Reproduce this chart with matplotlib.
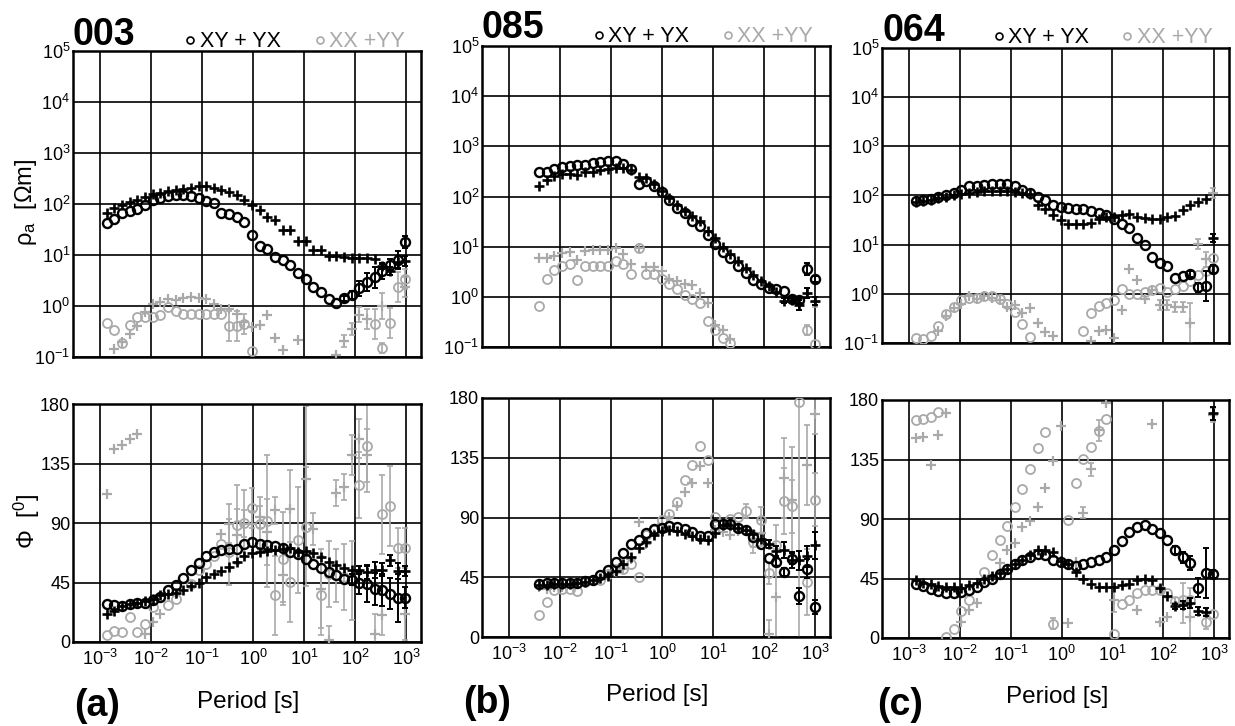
import numpy as np
import matplotlib.pyplot as plt
from matplotlib.lines import Line2D

plt.rcParams["font.family"] = ["Liberation Sans", "DejaVu Sans"]
plt.rcParams["mathtext.default"] = "regular"
plt.rcParams["axes.unicode_minus"] = False

nan = np.nan
GREY = "#a9a9a9"

# ---------------- site 003 ----------------
logT_003 = [-2.87, -2.72, -2.57, -2.42, -2.27, -2.12, -1.97, -1.82, -1.67, -1.52,
            -1.37, -1.22, -1.07, -0.92, -0.77, -0.62, -0.47, -0.32, -0.17, -0.02,
            0.13, 0.28, 0.43, 0.58, 0.73, 0.88, 1.03, 1.18, 1.33, 1.48,
            1.63, 1.78, 1.93, 2.08, 2.23, 2.38, 2.53, 2.68, 2.83, 2.98]
# log10 apparent resistivity, errors in decades
lrho_xy_003 = [1.62, 1.71, 1.83, 1.86, 1.91, 1.98, 2.07, 2.12, 2.15, 2.18,
               2.18, 2.16, 2.12, 2.05, 2.01, 1.83, 1.81, 1.74, 1.64, 1.40,
               1.17, 1.11, 0.96, 0.91, 0.81, 0.64, 0.52, 0.37, 0.28, 0.13,
               0.06, 0.15, 0.21, 0.35, 0.47, 0.56, 0.68, 0.81, 0.90, 1.25]
elrho_xy_003 = [0.0] * 31 + [0.05, 0.08, 0.15, 0.17, 0.2, 0.15, 0.12, 0.18, 0.12]
lrho_yx_003 = [1.83, 1.93, 1.99, 2.04, 2.07, 2.14, 2.19, 2.21, 2.25, 2.27,
               2.29, 2.32, 2.35, 2.35, 2.31, 2.27, 2.23, 2.17, 2.08, 1.98,
               1.89, 1.74, 1.68, 1.49, 1.49, 1.27, 1.27, 1.10, 1.10, 0.98,
               0.99, 0.97, 0.94, 0.94, 0.94, 0.92, 0.79, 0.69, 0.86, 0.89]
elrho_yx_003 = [0.0] * 36 + [0.06, 0.08, 0.12, 0.1]
lrho_xx_003 = [-0.33, -0.47, -0.73, -0.37, -0.22, -0.22, -0.22, -0.18, -0.01, -0.09,
               -0.16, -0.16, -0.16, -0.16, -0.16, -0.16, -0.39, -0.39, -0.35, -0.88,
               nan, nan, nan, nan, nan, nan, nan, nan, nan, nan,
               nan, nan, nan, nan, nan, -0.35, -0.83, -0.33, 0.37, 0.53]
elrho_xx_003 = [0.0] * 16 + [0.3, 0.3, 0.2, 0.0] + [0.0] * 15 + [0.3, 0.1, 0.3, 0.3, 0.2]
lrho_yy_003 = [nan, -0.85, -0.71, -0.55, -0.39, -0.12, 0.03, 0.07, 0.14, 0.12,
               0.15, 0.17, 0.15, 0.14, 0.04, -0.06, -0.06, -0.16, -0.32, -0.42,
               -0.37, -0.18, -0.63, -0.87, nan, -0.67, nan, nan, nan, nan,
               -0.96, -0.68, -0.45, -0.17, -0.26, nan, 0.0, nan, nan, 0.37]
elrho_yy_003 = [0.0] * 31 + [0.12, 0.12, 0.15, 0.2, 0.0, 0.25, 0.0, 0.0, 0.2]
phs_xy_003 = [29.0, 28.2, 27.0, 29.0, 29.5, 29.5, 32.0, 34.0, 39.1, 43.4,
              48.7, 54.7, 59.7, 65.3, 68.3, 69.8, 70.3, 70.6, 74.4, 75.6,
              74.4, 73.6, 72.9, 70.8, 68.3, 66.8, 63.0, 59.2, 56.2, 52.9,
              50.4, 47.9, 47.1, 44.6, 44.1, 40.3, 39.1, 36.6, 33.5, 33.5]
ephs_xy_003 = [0.0] * 32 + [4, 8, 14, 12, 12, 12, 18, 8]
phs_yx_003 = [21.4, 23.4, 27.0, 29.0, 29.5, 31.0, 32.8, 35.3, 36.6, 37.3,
              39.6, 42.1, 44.6, 49.2, 51.7, 53.7, 56.7, 60.3, 64.8, 67.6,
              68.3, 68.8, 69.3, 70.6, 71.3, 68.1, 68.8, 67.3, 64.3, 60.8,
              58.2, 56.2, 54.7, 54.2, 52.7, 54.2, 54.7, 61.8, 53.7, 53.7]
ephs_yx_003 = [0.0] * 33 + [3, 5, 6, 5, 4, 6, 4]
phs_xx_003 = [5.0, 8.3, 7.6, 18.9, 7.6, 13.9, 26.5, nan, 27.7, 32.8,
              nan, 44.1, 54.2, 58.7, 64.8, 74.4, 68.1, 88.7, 90.0, 101.3,
              89.5, 91.3, 35.3, 63.0, 45.4, 77.4, 87.0, nan, 35.3, 51.7,
              50.4, 49.2, 46.6, 118.5, 148.5, nan, 96.6, 102.9, 71.3, 71.1]
ephs_xx_003 = [0.0] * 15 + [0, 25, 30, 25, 15, 20, 50, 30, 35, 30,
                            40, 45, 0, 30, 25, 20, 25, 30, 25, 35,
                            0, 30, 30, 15, 15]
phs_yy_003 = [112.2, 146.2, 148.7, 153.8, 157.6, 6.3, 15.1, 20.9, nan, 36.6,
              nan, nan, nan, nan, nan, 81.9, 89.5, 80.7, 89.5, 89.0,
              94.5, 83.2, 99.6, 50.4, 100.3, nan, 123.5, 85.7, 40.3, 1.8,
              112.7, 117.2, 141.2, 153.8, 141.2, 6.3, 20.2, nan, nan, 21.4]
ephs_yy_003 = [0.0] * 15 + [0, 15, 20, 10, 10, 8, 25, 10, 20, 30,
                            0, 55, 12, 30, 10, 10, 10, 15, 15, 20,
                            15, 15, 0, 0, 20]

# ---------------- site 085 ----------------
logT_085 = [-2.41, -2.26, -2.11, -1.96, -1.81, -1.66, -1.51, -1.36, -1.21, -1.06,
            -0.91, -0.76, -0.61, -0.46, -0.31, -0.16, -0.01, 0.14, 0.29, 0.44,
            0.59, 0.74, 0.89, 1.04, 1.19, 1.34, 1.49, 1.64, 1.79, 1.94,
            2.09, 2.24, 2.39, 2.54, 2.69, 2.84, 2.99]
lrho_xy_085 = [2.48, 2.48, 2.54, 2.58, 2.61, 2.62, 2.62, 2.66, 2.69, 2.71,
               2.71, 2.64, 2.54, 2.24, 2.31, 2.20, 2.08, 1.93, 1.78, 1.67,
               1.52, 1.41, 1.23, 1.05, 0.90, 0.77, 0.62, 0.47, 0.33, 0.26,
               0.18, 0.16, 0.12, -0.05, -0.07, 0.56, 0.36]
elrho_xy_085 = [0.0] * 33 + [0.05, 0.05, 0.12, 0.06]
lrho_yx_085 = [2.20, 2.33, 2.41, 2.44, 2.44, 2.43, 2.48, 2.49, 2.52, 2.54,
               2.56, 2.57, 2.52, 2.39, 2.36, 2.24, 2.11, 1.97, 1.84, 1.72,
               1.61, 1.51, 1.31, 1.18, 1.00, 0.85, 0.72, 0.58, 0.43, 0.31,
               0.21, 0.10, -0.08, -0.07, -0.16, 0.08, -0.08]
elrho_yx_085 = [0.0] * 32 + [0.05, 0.05, 0.1, 0.1, 0.08]
lrho_xx_085 = [-0.18, 0.36, 0.54, 0.62, 0.66, 0.33, 0.62, 0.62, 0.62, 0.62,
               0.71, 0.66, 0.45, 0.98, 0.46, 0.46, 0.36, 0.25, 0.16, 0.03,
               -0.05, -0.12, -0.49, -0.66, -0.82, -0.93, nan, nan, nan, nan,
               nan, nan, nan, nan, nan, -0.66, -0.95]
elrho_xx_085 = [0.0] * 35 + [0.1, 0.0]
lrho_yy_085 = [0.77, 0.77, 0.82, 0.87, 0.89, 0.73, 0.92, 0.93, 0.93, 0.93,
               0.97, 0.85, 0.66, 0.98, 0.60, 0.60, 0.52, 0.36, 0.31, 0.26,
               0.23, 0.07, -0.13, -0.56, -0.66, -0.85, nan, nan, nan, nan,
               nan, nan, nan, nan, nan, nan, -0.10]
elrho_yy_085 = [0.0] * 36 + [0.1]
phs_xy_085 = [40.2, 40.7, 40.7, 40.7, 40.7, 40.7, 42.2, 42.7, 46.4, 50.7,
              56.7, 63.3, 69.8, 73.3, 78.3, 81.3, 82.3, 83.3, 82.8, 81.6,
              78.8, 75.8, 76.3, 84.8, 84.8, 84.8, 82.3, 80.3, 75.3, 70.3,
              59.7, 56.5, 48.9, 59.0, 30.6, 51.5, 22.6]
ephs_xy_085 = [0.0] * 31 + [3, 3, 4, 6, 7, 5]
phs_yx_085 = [38.9, 38.9, 39.7, 39.7, 39.7, 40.7, 41.4, 43.2, 44.7, 45.7,
              49.7, 54.7, 60.2, 67.3, 71.5, 76.6, 79.8, 80.3, 79.8, 77.8,
              75.8, 74.0, 73.3, 78.3, 84.1, 84.6, 82.3, 80.3, 77.8, 74.0,
              70.3, 64.8, 65.8, 58.2, 57.7, 60.7, 69.0]
ephs_yx_085 = [0.0] * 30 + [3, 4, 6, 6, 7, 8, 10]
phs_xx_085 = [16.3, 26.4, 35.1, 36.4, 36.4, 34.6, 41.4, 42.7, 42.7, 47.7,
              51.5, 51.5, 54.7, 45.2, 76.6, 80.3, 87.9, 92.9, 101.7, 118.0,
              129.3, 143.6, 133.0, 90.4, 85.3, 89.1, 90.4, 94.9, 71.5, 87.9,
              48.2, 69.0, 102.4, 98.4, 177.0, 41.4, 103.4]
ephs_xx_085 = [0.0] * 27 + [5, 8, 10, 8, 15, 25, 20, 180, 25, 20]
phs_yy_085 = [37.7, 36.4, 37.7, 37.7, 39.7, 39.7, 41.4, 42.7, 44.0, 46.4,
              49.0, 51.5, 59.0, 86.6, 70.3, 77.8, 85.3, 90.4, 98.4, 109.2,
              116.0, 128.5, 116.0, 80.3, 79.1, 76.6, 79.8, 79.8, 72.8, 78.3,
              2.5, 30.1, 120.0, 103.4, nan, 129.3, 167.7]
ephs_yy_085 = [0.0] * 28 + [5, 10, 10, 30, 30, 40, 0, 30, 15]

# ---------------- site 064 ----------------
logT_064 = [-2.87, -2.72, -2.57, -2.42, -2.27, -2.12, -1.97, -1.82, -1.67, -1.52,
            -1.37, -1.22, -1.07, -0.92, -0.77, -0.62, -0.47, -0.32, -0.17, -0.02,
            0.13, 0.28, 0.43, 0.58, 0.73, 0.88, 1.03, 1.18, 1.33, 1.48,
            1.63, 1.78, 1.93, 2.08, 2.23, 2.38, 2.53, 2.68, 2.83, 2.98]
lrho_xy_064 = [1.88, 1.90, 1.93, 1.97, 2.01, 2.06, 2.12, 2.19, 2.20, 2.22,
               2.24, 2.24, 2.24, 2.19, 2.12, 2.05, 1.96, 1.90, 1.81, 1.76,
               1.75, 1.73, 1.73, 1.68, 1.65, 1.60, 1.52, 1.42, 1.34, 1.13,
               1.00, 0.74, 0.62, 0.57, 0.33, 0.37, 0.41, 0.13, 0.16, 0.50]
elrho_xy_064 = [0.0] * 36 + [0.06, 0.1, 0.3, 0.08]
lrho_yx_064 = [1.86, 1.88, 1.90, 1.94, 1.96, 2.01, 2.03, 2.06, 2.07, 2.09,
               2.09, 2.09, 2.09, 2.07, 2.06, 2.03, 1.81, 1.73, 1.60, 1.50,
               1.42, 1.42, 1.42, 1.44, 1.52, 1.57, 1.57, 1.61, 1.63, 1.57,
               1.55, 1.52, 1.52, 1.57, 1.59, 1.70, 1.81, 1.86, 1.93, 1.14]
elrho_yx_064 = [0.0] * 39 + [0.08]
lrho_xx_064 = [-0.90, -0.92, -0.85, -0.65, -0.41, -0.26, -0.13, -0.08, -0.08, -0.05,
               -0.05, -0.10, -0.20, -0.36, -0.62, -0.88, nan, nan, nan, nan,
               nan, nan, -0.76, -0.39, -0.24, -0.18, -0.13, 0.10, 0.0, 0.0,
               0.03, 0.07, 0.11, 0.03, 0.10, 0.16, 0.26, 0.39, 0.46, 0.72]
elrho_xx_064 = [0.0] * 40
lrho_yy_064 = [nan, nan, nan, -0.75, -0.46, -0.29, -0.20, -0.05, -0.10, -0.05,
               -0.09, -0.13, -0.26, -0.23, -0.39, -0.29, -0.59, -0.78, -0.85, nan,
               nan, nan, nan, -0.95, -0.76, -0.74, -0.90, -0.33, 0.50, 0.29,
               -0.10, 0.07, -0.23, -0.23, -0.26, -0.26, -0.59, 1.01, 0.70, 2.05]
elrho_yy_064 = [0.0] * 32 + [0.1, 0.1, 0.1, 0.1, 0.4, 0.1, 0.15, 0.1]
phs_xy_064 = [40.7, 39.1, 37.1, 35.6, 34.1, 34.1, 34.8, 36.6, 38.6, 42.4,
              44.9, 48.7, 52.5, 55.8, 59.3, 61.4, 63.4, 62.6, 59.3, 57.6,
              55.8, 54.3, 55.8, 57.6, 59.3, 61.4, 66.9, 73.5, 80.3, 84.1,
              85.3, 82.8, 79.5, 74.0, 66.9, 60.9, 56.8, 38.1, 49.2, 48.7]
ephs_xy_064 = [0.0] * 34 + [3, 4, 5, 7, 19, 3]
phs_yx_064 = [43.7, 41.7, 40.7, 39.1, 38.6, 38.6, 38.1, 39.9, 41.7, 44.9,
              46.7, 49.2, 52.5, 55.8, 59.3, 62.6, 66.9, 66.9, 65.1, 58.3,
              55.8, 50.0, 44.9, 41.2, 38.6, 38.6, 38.6, 39.9, 41.2, 44.2,
              44.9, 43.7, 38.1, 31.6, 24.0, 24.7, 26.5, 20.5, 19.7, 169.9]
ephs_yx_064 = [0.0] * 34 + [2, 3, 4, 3, 3, 5]
phs_xx_064 = [164.9, 165.4, 167.4, 171.2, 0.8, 7.1, 20.5, 28.5, nan, 50.0,
              62.6, 74.0, 84.6, 99.2, 112.4, 127.8, 143.4, 156.0, 10.9, nan,
              89.1, 117.4, 135.1, 144.2, 156.8, 165.4, 2.8, 26.0, 29.0, 34.1,
              36.1, 36.1, 36.6, 34.1, 28.0, 29.0, 28.5, nan, 12.1, 17.9]
ephs_xx_064 = [0.0] * 18 + [4, 0, 0, 0, 0, 0, 8, 0, 0, 0,
                            0, 0, 0, 0, 0, 0, 0, 0, 0, 0, 5, 0]
phs_yy_064 = [151.0, 152.3, 130.8, 153.5, 169.9, nan, 12.1, 21.5, 26.5, nan,
              nan, 56.8, 66.9, 72.0, 84.1, 88.6, 99.2, 113.6, 134.1, 160.3,
              11.4, 57.6, 94.7, 127.5, 157.3, 178.0, 29.0, nan, nan, 21.5,
              nan, 161.9, 12.1, 15.9, 26.5, 26.5, 15.9, nan, nan, 168.7]
ephs_yy_064 = [0.0] * 22 + [4, 5, 0, 0, 9, 0, 0, 0,
                            0, 0, 0, 0, 0, 15, 22, 0, 0, 5]

sites = ["003", "085", "064"]
panel_tags = ["(a)", "(b)", "(c)"]

W, H = 1235, 726


def fx(px):
    return px / W


def fy(py):
    return 1 - py / H


def plot_series(ax, logT, vals, err, color, marker, log_rho):
    T = 10.0 ** np.asarray(logT)
    v = np.asarray(vals, dtype=float)
    e = np.asarray(err, dtype=float)
    if log_rho:
        y = 10.0 ** v
        lo = y - 10.0 ** (v - e)
        hi = 10.0 ** (v + e) - y
    else:
        y = v
        lo = hi = e
    black = color == "black"
    z = 4 if black else 2
    m = (e > 0) & np.isfinite(v)
    if m.any():
        ax.errorbar(T[m], y[m], yerr=[lo[m], hi[m]], fmt="none", ecolor=color,
                    elinewidth=1.4 if black else 1.2, capsize=2.2,
                    capthick=1.4 if black else 1.2, zorder=z)
    if marker == "o":
        ax.plot(T, y, "o", ms=6.5, mfc="none", mec=color,
                mew=1.7 if black else 1.3, ls="none", zorder=z + 1)
    else:
        ax.plot(T, y, "+", ms=7.5, mec=color,
                mew=1.9 if black else 1.6, ls="none", zorder=z + 1)


def style_axes(ax):
    ax.set_xscale("log")
    ax.set_xlim(10 ** -3.53, 10 ** 3.29)
    ax.set_xticks([1e-3, 1e-2, 1e-1, 1e0, 1e1, 1e2, 1e3])
    ax.minorticks_off()
    ax.set_axisbelow(True)
    ax.grid(True, color="black", lw=1.2)
    ax.tick_params(length=0, labelsize=13, pad=2)
    for sp in ax.spines.values():
        sp.set_linewidth(1.8)


fig = plt.figure(figsize=(W / 100, H / 100), dpi=100)

# axes boxes in pixels: left, right, rho top, rho bottom, phase top, phase bottom
boxes = [(73, 421, 51, 357, 404, 642),
         (482, 830, 46, 347, 398, 637),
         (882, 1229, 48, 343, 400, 638)]
title_base = [45, 38, 41]
legend_x = [(190, 200, 320, 329), (599, 608, 728, 737), (999, 1008, 1127, 1137)]
legend_base = [47, 42, 43]
period_xy = [(248, 702), (657, 695), (1057, 697)]
tag_xy = [(97, 706), (487, 703), (900, 705)]

for k, site in enumerate(sites):
    g = globals()
    logT = g["logT_" + site]
    left, right, rt, rb, pt, pb = boxes[k]

    ax_r = fig.add_axes([fx(left), fy(rb), fx(right - left), (rb - rt) / H])
    ax_p = fig.add_axes([fx(left), fy(pb), fx(right - left), (pb - pt) / H])
    style_axes(ax_r)
    style_axes(ax_p)

    ax_r.set_yscale("log")
    ax_r.set_ylim(1e-1, 1e5)
    ax_r.set_yticks([1e-1, 1e0, 1e1, 1e2, 1e3, 1e4, 1e5])
    ax_r.minorticks_off()
    ax_r.tick_params(axis="x", labelbottom=False)

    ax_p.set_ylim(0, 180)
    ax_p.set_yticks([0, 45, 90, 135, 180])
    ax_p.tick_params(axis="x", pad=5)

    for comp, mk, col in [("xx", "o", GREY), ("yy", "+", GREY),
                          ("xy", "o", "black"), ("yx", "+", "black")]:
        plot_series(ax_r, logT, g["lrho_%s_%s" % (comp, site)],
                    g["elrho_%s_%s" % (comp, site)], col, mk, True)
        plot_series(ax_p, logT, g["phs_%s_%s" % (comp, site)],
                    g["ephs_%s_%s" % (comp, site)], col, mk, False)

    # site name and component key above the resistivity panel
    fig.text(fx(left), fy(title_base[k]), site, fontsize=27, fontweight="bold",
             va="baseline", ha="left")
    cx1, tx1, cx2, tx2 = legend_x[k]
    cy = fy(legend_base[k] - 7)
    fig.add_artist(Line2D([fx(cx1)], [cy], marker="o", ms=5, mfc="none",
                          mec="black", mew=1.2, transform=fig.transFigure))
    fig.text(fx(tx1), fy(legend_base[k]), "XY + YX", fontsize=15.5,
             va="baseline", color="black")
    fig.add_artist(Line2D([fx(cx2)], [cy], marker="o", ms=5, mfc="none",
                          mec=GREY, mew=1.2, transform=fig.transFigure))
    fig.text(fx(tx2), fy(legend_base[k]), "XX +YY", fontsize=15.5,
             va="baseline", color=GREY)

    px_, py_ = period_xy[k]
    fig.text(fx(px_), fy(py_), "Period [s]", fontsize=17.5, ha="center", va="center")
    tx_, ty_ = tag_xy[k]
    fig.text(fx(tx_), fy(ty_), panel_tags[k], fontsize=27, fontweight="bold",
             ha="center", va="center")

fig.text(fx(26), fy(202), r"$\rho_a$  [$\Omega$m]", fontsize=17, rotation=90,
         ha="center", va="center")
fig.text(fx(27), fy(521), r"$\Phi$  [$^0$]", fontsize=17, rotation=90,
         ha="center", va="center")

fig.savefig("out.png", dpi=100)
